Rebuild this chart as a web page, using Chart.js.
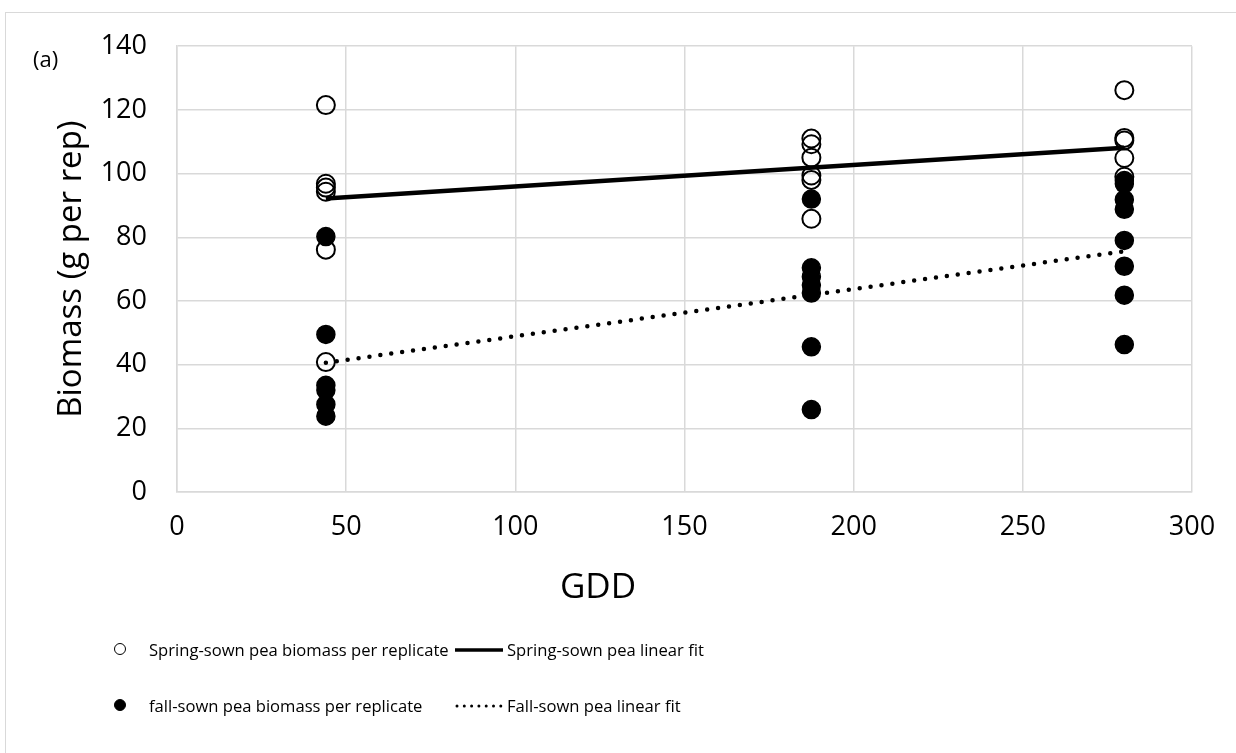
<!DOCTYPE html>
<html>
<head>
<meta charset="utf-8">
<script src="https://cdn.jsdelivr.net/npm/chart.js@4.4.0/dist/chart.umd.min.js"></script>
<style>
  body { margin: 0; background: #fff; overflow: hidden; font-family: 'Open Sans', sans-serif; }
  #marco { position: absolute; left: 5px; top: 12px; width: 1250px; height: 760px; border-left: 1px solid #d9d9d9; border-top: 1px solid #d9d9d9; }
  #grafico { position: absolute; left: 0; top: 0; }
  .texto { position: absolute; font-size: 16.6px; line-height: 24px; color: #000; white-space: nowrap; }
  .circulo { position: absolute; width: 10px; height: 10px; border: 1.5px solid #000; border-radius: 50%; }
  .etiqueta { position: absolute; left: 33px; top: 44px; font-size: 22px; line-height: 28px; color: #000; }
</style>
</head>
<body>
<div id="marco"></div>
<canvas id="grafico" width="1236" height="753"></canvas>
<div class="etiqueta">(a)</div>

<!-- leyenda: dos filas, dos columnas -->
<div class="circulo" style="left:114px; top:643px; background:#fff"></div>
<div class="texto" style="left:149px; top:638px">Spring-sown pea biomass per replicate</div>
<svg style="position:absolute; left:453px; top:640px" width="52" height="20">
  <line x1="2" y1="10" x2="50" y2="10" stroke="#000" stroke-width="3.5" />
</svg>
<div class="texto" style="left:507px; top:638px">Spring-sown pea linear fit</div>

<div class="circulo" style="left:114px; top:699px; background:#000"></div>
<div class="texto" style="left:149px; top:694px">fall-sown pea biomass per replicate</div>
<svg style="position:absolute; left:453px; top:696px" width="52" height="20">
  <line x1="4" y1="10" x2="48" y2="10" stroke="#000" stroke-width="3" stroke-dasharray="0 7.3" stroke-linecap="round" />
</svg>
<div class="texto" style="left:507px; top:694px">Fall-sown pea linear fit</div>

<script>
// Valores (GDD y biomasa en g por rep)
const gddNiveles = [44, 187.5, 280]
const primaveraBiomasa = [
  [121.5, 96.8, 95.6, 94.3, 76.1, 40.8],
  [111.0, 109.2, 105.0, 99.4, 98.0, 85.8],
  [126.2, 111.2, 110.4, 104.9, 99.0]
]
const otonoBiomasa = [
  [80.2, 49.5, 33.5, 32.0, 27.5, 23.8],
  [92.0, 70.4, 67.6, 65.0, 62.5, 45.6, 25.9],
  [97.8, 96.8, 91.8, 88.8, 79.0, 70.9, 61.8, 46.3]
]
// Extremos de las rectas de ajuste
const ajusteX = [44, 280]
const ajustePrimavera = [92.2, 108.1]
const ajusteOtono = [40.6, 75.6]
const ticksY = [0, 20, 40, 60, 80, 100, 120, 140]
const ticksX = [0, 50, 100, 150, 200, 250, 300]

const aPuntos = (grupos) => {
  const puntos = []
  grupos.forEach((valores, i) => {
    valores.forEach(v => puntos.push({ x: gddNiveles[i], y: v }))
  })
  return puntos
}
const aLinea = (ys) => ajusteX.map((x, i) => ({ x: x, y: ys[i] }))

const fuente = "'Open Sans', sans-serif"
const gris = '#d9d9d9'

// titulo del eje x dibujado a mano (Excel no lo centra sobre el area)
const tituloX = {
  id: 'tituloX',
  afterDraw(chart) {
    const ctx = chart.ctx
    ctx.save()
    ctx.font = `35px ${fuente}`
    ctx.fillStyle = '#000'
    ctx.textAlign = 'center'
    ctx.textBaseline = 'middle'
    ctx.fillText('GDD', 598, 588)
    ctx.restore()
  }
}

const config = {
  type: 'scatter',
  data: {
    datasets: [
      {
        label: 'Spring-sown pea linear fit',
        data: aLinea(ajustePrimavera),
        showLine: true,
        borderColor: '#000',
        borderWidth: 4.5,
        pointRadius: 0,
        order: 1,
      },
      {
        label: 'Fall-sown pea linear fit',
        data: aLinea(ajusteOtono),
        showLine: true,
        borderColor: '#000',
        borderWidth: 4.5,
        borderDash: [0, 11],
        borderCapStyle: 'round',
        pointRadius: 0,
        order: 2,
      },
      {
        label: 'fall-sown pea biomass per replicate',
        data: aPuntos(otonoBiomasa),
        pointRadius: 9,
        pointBorderWidth: 1.5,
        pointBackgroundColor: '#000',
        pointBorderColor: '#000',
        order: 3,
      },
      {
        label: 'Spring-sown pea biomass per replicate',
        data: aPuntos(primaveraBiomasa),
        pointRadius: 9,
        pointBorderWidth: 2,
        pointBackgroundColor: 'rgba(255,255,255,0)',
        pointBorderColor: '#000',
        order: 4,
      }
    ]
  },
  options: {
    responsive: false,
    animation: false,
    devicePixelRatio: 1,
    layout: { padding: { left: 48, right: 44, top: 44, bottom: 141 } },
    plugins: {
      legend: { display: false },
      tooltip: { enabled: false }
    },
    scales: {
      x: {
        type: 'linear',
        min: 0,
        max: 300,
        afterBuildTicks: (scale) => { scale.ticks = ticksX.map(v => ({ value: v })) },
        afterFit: (scale) => { scale.height = 120 },
        grid: { color: gris, lineWidth: 1.5, drawTicks: false },
        border: { color: gris, width: 1.5 },
        ticks: { padding: 19, color: '#000', font: { family: fuente, size: 27 } },
        title: { display: false }
      },
      y: {
        type: 'linear',
        min: 0,
        max: 140,
        afterBuildTicks: (scale) => { scale.ticks = ticksY.map(v => ({ value: v })) },
        afterFit: (scale) => { scale.width = 129 },
        grid: { color: gris, lineWidth: 1.5, drawTicks: false },
        border: { color: gris, width: 1.5 },
        ticks: { padding: 30, color: '#000', font: { family: fuente, size: 27 } },
        title: {
          display: true,
          text: 'Biomass (g per rep)',
          color: '#000',
          font: { family: fuente, size: 33 },
          padding: { top: 4, bottom: 4 }
        }
      }
    }
  },
  plugins: [tituloX]
}

const myChart = new Chart(document.querySelector('#grafico'), config)
</script>
</body>
</html>
